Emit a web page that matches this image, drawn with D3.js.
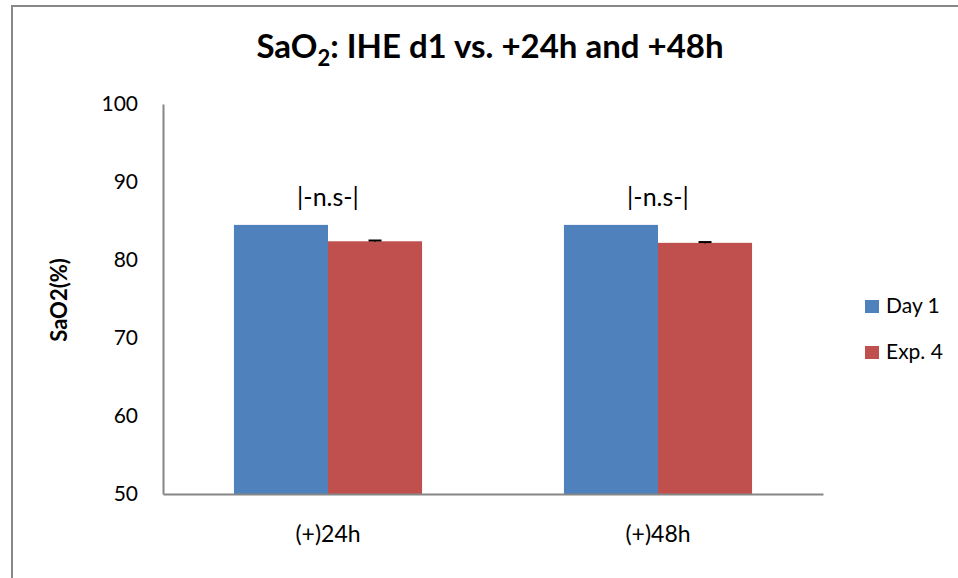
<!DOCTYPE html>
<html><head><meta charset="utf-8">
<script src="https://cdn.jsdelivr.net/npm/d3@7"></script>
<style>body{margin:0;background:#fff}svg{display:block;font-family:Lato,"Open Sans",sans-serif}</style>
</head><body><svg id="c" width="958" height="578"></svg>
<script>
const categories = ["(+)24h", "(+)48h"];
const seriesNames = ["Day 1", "Exp. 4"];
const day1 = [84.5, 84.5];
const exp4 = [82.4, 82.2];
const exp4Err = [0.1, 0.1];
const annotations = ["|-n.s-|", "|-n.s-|"];
const yTicks = [50, 60, 70, 80, 90, 100];
const colors = ["#4f81bd", "#c0504d"];

const svg = d3.select("#c");
// outer chart border
svg.append("rect").attr("x", 12).attr("y", 6).attr("width", 960).attr("height", 600)
  .attr("fill", "none").attr("stroke", "#888").attr("stroke-width", 2);

const L = 163, R = 823, T = 104, B = 494;
const x0 = d3.scaleBand().domain(categories).range([L, R]).paddingInner(0.43).paddingOuter(0.215);
const x1 = d3.scaleBand().domain(seriesNames).range([0, x0.bandwidth()]);
const y = d3.scaleLinear().domain([50, 100]).range([B, T]);

const data = categories.map((c, i) => ({c, vals: [day1[i], exp4[i]], err: [0, exp4Err[i]]}));

const g = svg.append("g");
data.forEach((d, i) => {
  d.vals.forEach((v, j) => {
    g.append("rect").attr("x", x0(d.c) + x1(seriesNames[j])).attr("y", y(v))
      .attr("width", x1.bandwidth()).attr("height", y(50) - y(v)).attr("fill", colors[j]);
  });
  // error bar on Exp. 4
  const cx = x0(d.c) + x1(seriesNames[1]) + x1.bandwidth() / 2;
  const v = d.vals[1], e = d.err[1];
  g.append("line").attr("x1", cx).attr("x2", cx).attr("y1", y(v - e)).attr("y2", y(v + e)).attr("stroke", "#000");
  g.append("line").attr("x1", cx - 6.5).attr("x2", cx + 6.5).attr("y1", y(v + e)).attr("y2", y(v + e))
    .attr("stroke", "#000").attr("stroke-width", 2);
  // annotation
  svg.append("text").attr("x", x0(d.c) + x0.bandwidth() / 2).attr("y", 206)
    .attr("text-anchor", "middle").attr("font-size", 25).attr("fill", "#000").text(annotations[i]);
});

// axes
const yAxis = d3.axisLeft(y).tickValues(yTicks).tickSize(0).tickPadding(25);
const ya = svg.append("g").attr("transform", `translate(${L},0)`).call(yAxis);
ya.select(".domain").attr("stroke", "#868686").attr("stroke-width", 2);
ya.selectAll("text").attr("font-size", 21).attr("fill", "#000").attr("font-family", "Lato,'Open Sans',sans-serif");

const xAxis = d3.axisBottom(x0).tickSize(0).tickPadding(32);
const xa = svg.append("g").attr("transform", `translate(0,${B})`).call(xAxis);
xa.select(".domain").attr("stroke", "#868686").attr("stroke-width", 2);
xa.selectAll("text").attr("font-size", 23).attr("fill", "#000").attr("font-family", "Lato,'Open Sans',sans-serif");

// title
const t = svg.append("text").attr("x", 490).attr("y", 58).attr("text-anchor", "middle")
  .attr("font-size", 33).attr("font-weight", "bold").attr("fill", "#000");
t.append("tspan").text("SaO");
t.append("tspan").attr("font-size", 22).attr("dy", 8).text("2");
t.append("tspan").attr("dy", -8).text(": IHE d1 vs. +24h and +48h");

// y title
svg.append("text").attr("transform", "translate(67,300) rotate(-90)").attr("text-anchor", "middle")
  .attr("font-size", 22).attr("font-weight", "bold").text("SaO2(%)");

// legend
const lg = svg.append("g");
seriesNames.forEach((s, i) => {
  lg.append("rect").attr("x", 865).attr("y", 300 + i * 46).attr("width", 14).attr("height", 13).attr("fill", colors[i]);
  lg.append("text").attr("x", 886).attr("y", 313 + i * 46).attr("font-size", 21).text(s);
});
</script></body></html>
